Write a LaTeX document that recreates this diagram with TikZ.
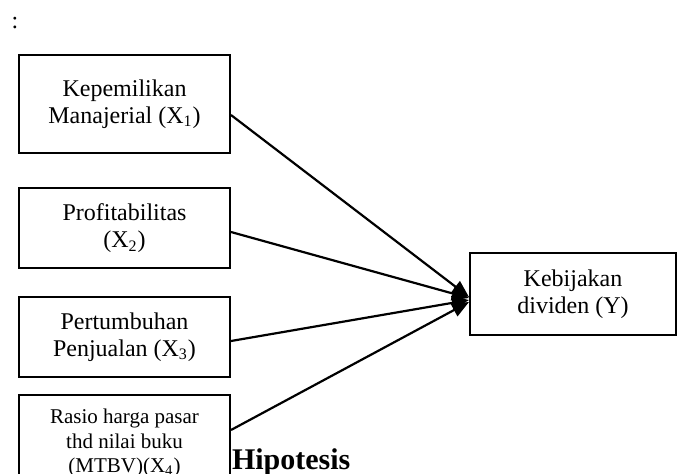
\documentclass[tikz,border=0pt]{standalone}
\usepackage{fontspec}
\setmainfont{Liberation Serif}
\usetikzlibrary{arrows.meta}
\begin{document}
\begin{tikzpicture}[x=0.5pt, y=-0.5pt]
        \useasboundingbox (0,0) rectangle (677,473);
        \tikzstyle{every node}=[align=center, font=\fontsize{12}{13.5}\selectfont]
        \tikzstyle{kotak}=[draw, line width=1pt, fill=white, inner sep=0pt, minimum width=105.5pt]
        \node (titik) at (15,23) {:};
        \node[anchor=base west, font=\fontsize{15}{17}\selectfont\bfseries] (nomor) at (11,469) {B.};
        \node[anchor=base west, font=\fontsize{15}{17}\selectfont\bfseries] (judul) at (225,469) {Hipotesis};
        \node[kotak, minimum height=49pt] (kep)    at (124.5,104) {Kepemilikan\\Manajerial (X\textsubscript{1})};
        \node[kotak, minimum height=40pt] (prof)   at (124.5,228) {Profitabilitas\\(X\textsubscript{2})};
        \node[kotak, minimum height=40pt] (tumbuh) at (124.5,337) {Pertumbuhan\\Penjualan (X\textsubscript{3})};
        \node[kotak, minimum height=48pt, font=\fontsize{10.5}{12.3}\selectfont] (mtbv) at (124.5,443) {Rasio harga pasar\\thd nilai buku\\(MTBV)(X\textsubscript{4})};
        \node[kotak, minimum width=103pt, minimum height=41pt] (div) at (573,294) {Kebijakan\\dividen (Y)};
        \tikzstyle{every node}=[fill=none]
        \draw[-{Triangle[length=8.5pt,width=7pt]}, line width=1.1pt] ([yshift=-5.5pt]kep.east) -- ([yshift=-1.5pt]div.west);
        \draw[-{Triangle[length=8.5pt,width=7pt]}, line width=1.1pt] ([yshift=-2pt]prof.east) -- ([yshift=-2pt]div.west);
        \draw[-{Triangle[length=8.5pt,width=7pt]}, line width=1.1pt] ([yshift=-2pt]tumbuh.east) -- ([yshift=-3pt]div.west);
        \draw[-{Triangle[length=8.5pt,width=7pt]}, line width=1.1pt] ([yshift=6.5pt]mtbv.east) -- ([yshift=-4pt]div.west);
    \end{tikzpicture}
\end{document}
